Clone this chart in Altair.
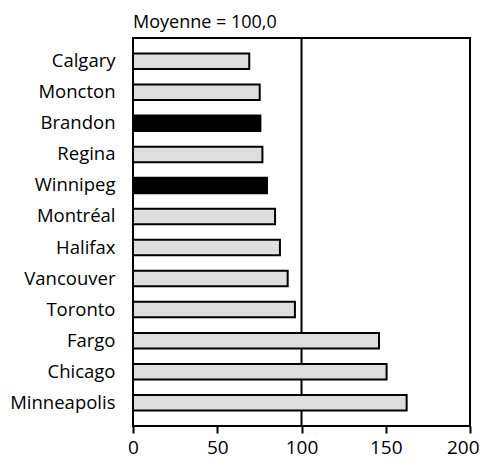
import altair as alt
import pandas as pd

cities = ["Calgary", "Moncton", "Brandon", "Regina", "Winnipeg", "Montréal",
          "Halifax", "Vancouver", "Toronto", "Fargo", "Chicago", "Minneapolis"]
values = [69.0, 75.2, 75.6, 76.8, 79.5, 84.3, 87.2, 91.8, 96.1, 146.0, 150.5, 162.4]
highlight = ["Brandon", "Winnipeg"]
mean_value = 100.0
x_ticks = [0, 50, 100, 150, 200]

df = pd.DataFrame({"city": cities, "value": values})
df["group"] = ["hl" if c in highlight else "other" for c in cities]
mean_df = pd.DataFrame({"mean": [mean_value]})

FONT = "Open Sans"

rule = alt.Chart(mean_df).mark_rule(color="black", strokeWidth=2).encode(
    x=alt.X("mean:Q", scale=alt.Scale(domain=[0, 200], nice=False))
)

last = f"datum.value == {x_ticks[-1]}"

bars = alt.Chart(df).mark_bar(stroke="black", strokeWidth=2).encode(
    y=alt.Y("city:N", sort=cities, title=None,
            scale=alt.Scale(paddingInner=0.5, paddingOuter=0.5),
            axis=alt.Axis(ticks=False, domain=False, labelPadding=18,
                          labelFontSize=18.5, labelFont=FONT, labelColor="black")),
    x=alt.X("value:Q", title=None,
            scale=alt.Scale(domain=[0, 200], nice=False),
            axis=alt.Axis(values=x_ticks, grid=False, domain=False, tickSize=7,
                          tickWidth=2, tickColor="black", labelFontSize=19,
                          labelFont=FONT, labelColor="black", labelPadding=5,
                          labelFlush=False,
                          labelAlign=alt.condition(last, alt.value("right"), alt.value("center")),
                          labelOffset=alt.condition(last, alt.value(9), alt.value(0)))),
    fill=alt.Fill("group:N", scale=alt.Scale(domain=["hl", "other"],
                                              range=["black", "#dedede"]),
                  legend=None),
)

chart = (rule + bars).properties(
    width=337, height=388,
    autosize=alt.AutoSizeParams(type="none"),
    padding={"left": 125, "top": 30, "right": 10, "bottom": 33},
    title=alt.TitleParams("Moyenne = 100,0", anchor="start", frame="group",
                          fontSize=18, font=FONT, fontWeight="normal",
                          color="black", offset=5),
).configure_view(stroke="black", strokeWidth=2)

chart.save("out.html", embed_options={"renderer": "svg", "actions": False})
